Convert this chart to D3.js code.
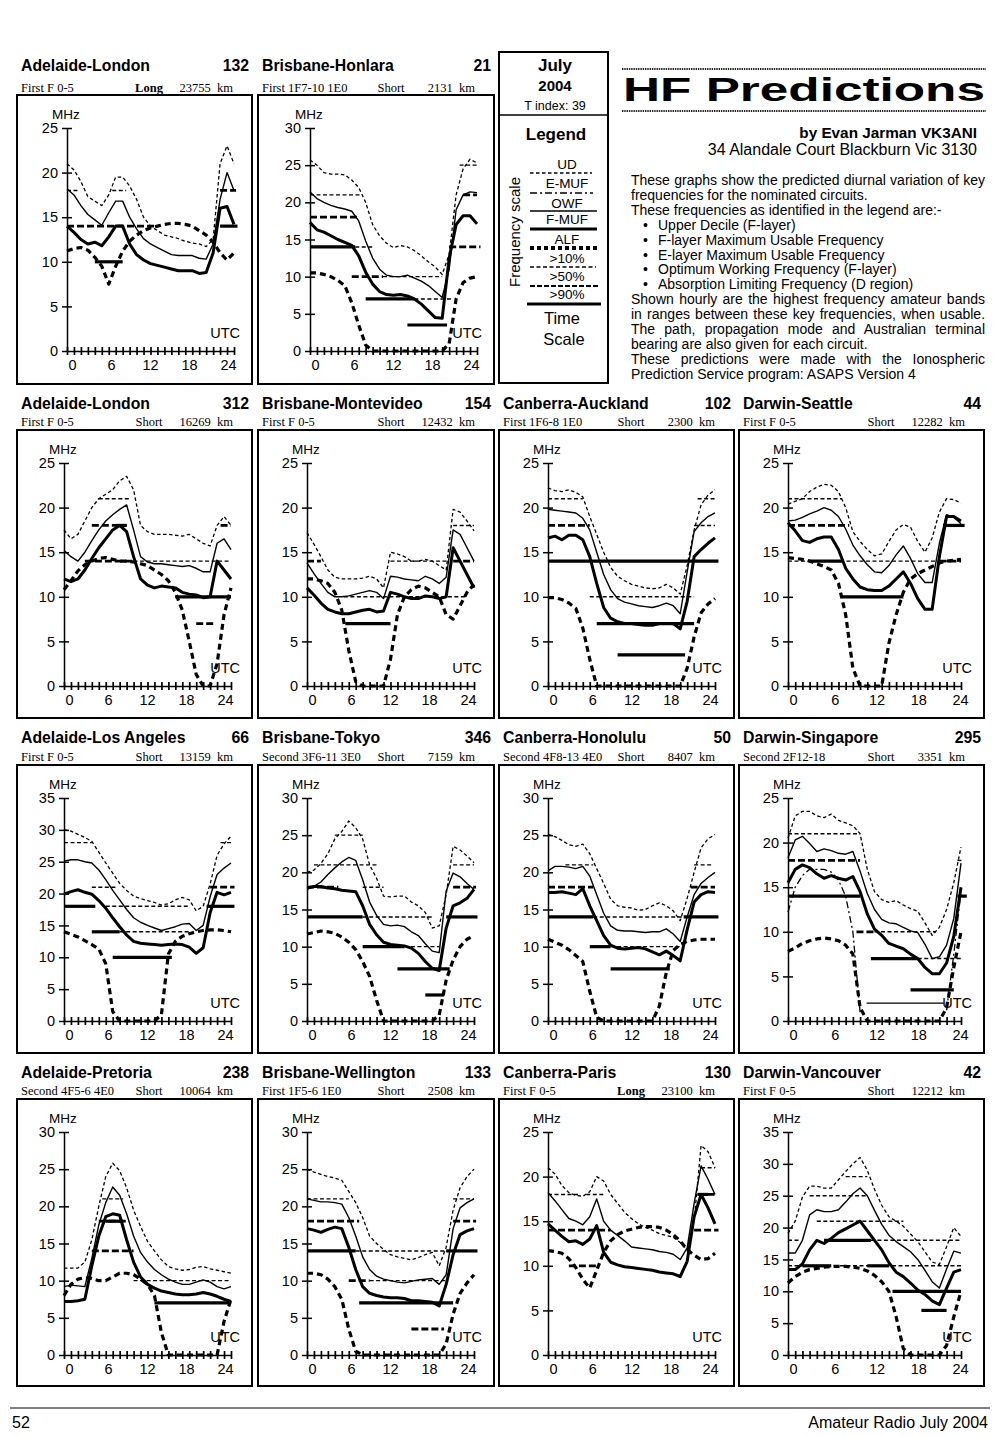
<!DOCTYPE html>
<html>
<head>
<meta charset="utf-8">
<script src="https://cdn.jsdelivr.net/npm/d3@7"></script>
<style>
  body { margin: 0; background: #fff; }
  svg text { font-family: "Liberation Sans", Arial, sans-serif; fill: #000; }
  .serif { font-family: "Liberation Serif", "Times New Roman", serif; }
</style>
</head>
<body>
<svg id="page" width="1000" height="1436"></svg>
<script>
// ---------------- data ----------------
const hours = [0,1,2,3,4,5,6,7,8,9,10,11,12,13,14,15,16,17,18,19,20,21,22,23,24];
const hourLabels = [0, 6, 12, 18, 24];
const freqTicks = [0, 5, 10, 15, 20, 25, 30, 35];

const circuits = ["Adelaide-London", "Brisbane-Honlara", "Adelaide-London", "Brisbane-Montevideo",
  "Canberra-Auckland", "Darwin-Seattle", "Adelaide-Los Angeles", "Brisbane-Tokyo",
  "Canberra-Honolulu", "Darwin-Singapore", "Adelaide-Pretoria", "Brisbane-Wellington",
  "Canberra-Paris", "Darwin-Vancouver"];
const bearings = [132, 21, 312, 154, 102, 44, 66, 346, 50, 295, 238, 133, 130, 42];
const modes = ["First F 0-5", "First 1F7-10 1E0", "First F 0-5", "First F 0-5", "First 1F6-8 1E0",
  "First F 0-5", "First F 0-5", "Second 3F6-11 3E0", "Second 4F8-13 4E0", "Second 2F12-18",
  "Second 4F5-6 4E0", "First 1F5-6 1E0", "First F 0-5", "First F 0-5"];
const paths = ["Long", "Short", "Short", "Short", "Short", "Short", "Short", "Short",
  "Short", "Short", "Short", "Short", "Long", "Short"];
const distances = [23755, 2131, 16269, 12432, 2300, 12282, 13159, 7159, 8407, 3351, 10064, 2508, 23100, 12212];
const yMax = [25, 30, 25, 25, 25, 25, 35, 30, 30, 25, 30, 30, 25, 35];

// Upper decile (F-layer), MHz, hourly 0..24 UTC
const upperDecile = [
  [21,20.3,19,17.3,16.8,16.3,17.5,19.5,19.5,18.5,17,15,14,13.5,13,12.8,12.6,12.3,12.1,12,11.7,12.5,21,23,21],
  [25.7,25,24,23.8,23.8,23.7,23,22,20,17,15.5,14.5,13.9,14.2,14,13.5,12.8,12,11.3,10.3,13,21,24.5,25.8,25.3],
  [17.5,16.5,17,18.5,20,21,21.5,22,23,23.5,22,18,17.3,17,17,17,16.9,16.8,17,16.5,16,15.7,18,19,18],
  [17.2,15.9,14.5,13,12.2,12,12,12,12.1,12.3,12,11,15,14.8,14.5,14,14,14.2,14,13.5,13,19.8,19.5,18.5,17.4],
  [22.2,21.9,21.8,22,21.7,21.2,19,17,15,13.3,12.3,11.8,11.4,11.2,11,10.9,11,11.4,11,10.3,13.5,17.5,20.3,21.4,22],
  [20.4,20.7,21,21.8,22.3,22.6,22.5,21.8,20,17.3,16.2,15.3,14.6,14.8,16.2,17.5,18.1,17.8,16.2,15,16.6,19.5,21,20.9,20.5],
  [30,29.8,29.3,28.8,28.2,26.5,24.8,23.2,21.6,20.5,19.6,19.2,18.9,18.6,18.2,18.4,19,19.4,19,17.3,18,21.5,26,27.8,29],
  [20,20.3,21.2,22.5,24.5,25.5,26.9,26,24.5,21,19.2,16.8,16.7,16.8,16.8,16,15.5,14.6,12.5,12.8,17,23.5,23,22.2,21.3],
  [25.1,24.8,24.3,23.7,23.5,23.8,22.5,20.5,18.5,16.4,15.5,15.3,15.2,14.9,15,15.5,15.9,15.5,14.8,13.5,16.5,20,23.3,24.5,25.1],
  [20.5,23,23.5,23.5,23,22.8,23.2,22.5,22.2,21.9,21,17,14.5,13.6,13.3,13.5,13,12.6,12.3,11,9.6,10.5,12.5,15.5,19.5],
  [11.7,11.7,11.7,12.5,15.5,20,24,25.8,24.8,22.5,19.5,17.3,15.3,14,12.8,11.9,11.6,11.4,11.5,11.8,11.9,11.6,11.4,11.2,11],
  [25,24.6,24.3,24,23.8,23.5,22,20.5,18.5,16,15,14.2,13.5,13.2,13,12.8,13.1,13.5,13.8,12,14.5,19.5,22.5,24,25],
  [21,20.3,19,18.2,17.9,17.8,18.3,20,19.5,18,17,16,15.3,14.7,14.3,14,13.6,13.4,13.2,12.6,11.8,15,23.5,22.8,21],
  [19.1,21,24.8,26.5,26.5,26.2,26.2,27.5,28.8,30,31,29,26,23.5,21.7,21,20.2,19,17.8,16.2,14.6,14.2,17,20,18.6]
];

// F-layer maximum usable frequency
const fLayerMuf = [
  [18.2,17.5,16.3,15.3,14.7,14.1,15.5,16.8,16.8,15,13.7,12.6,12,11.6,11.2,10.8,10.7,10.7,10.7,10.4,10.3,12,17,20,18],
  [21.4,20.5,20,19.6,19.3,19.1,18.8,17.5,14.8,12.5,11,10.2,10,10,10.2,9.8,9.4,8.8,8,7.2,11,19,21,21.4,21.3],
  [15.2,14.5,14,15,16.3,17.5,18.5,19.2,19.8,20.3,17.5,14.5,13.9,13.7,13.7,13.6,13.5,13.4,13.5,13.2,12.8,12.8,16,16.5,15.3],
  [13.8,12.6,11.5,10.5,10,10,10.1,10.3,10.5,10.7,10.5,9.8,12.3,12.2,12,11.9,11.8,12.3,12,11.5,12.2,17.5,17,15.5,14],
  [19.8,19.7,19.6,19.5,19.4,18.8,17.5,15,12.5,10.8,9.8,9.4,9.2,9,8.9,8.8,9,9.3,9,8.1,12.8,17.3,18.3,19,19.4],
  [18.5,18.6,18.9,19.3,19.6,20,19.7,19,17.6,15.8,14.6,13.6,12.8,12.7,13.5,14.7,15.7,14.3,12.6,11.6,11.6,16,19.2,18.9,18.2],
  [25.1,25.3,25.3,25,24.8,23.7,22.2,20.5,19,17.5,16.2,15.5,15,14.6,14.2,14.5,14.8,15.2,15.3,14.2,15,19.5,23,24,24.8],
  [17.7,18.1,18.7,19.7,20.6,21.4,22,21.6,19,16,14.2,13,12.8,12.9,12.7,12,11.5,10.4,9.4,9.2,17.5,19.9,19.4,18.5,17.7],
  [20.2,20.8,20.8,20.7,20.5,20.8,19.5,17,14.5,12.8,12.2,12.1,12.1,12,11.9,12,12,12.4,11.7,10.7,14,17,18.5,19.3,20],
  [18.3,20.3,20.7,19.9,19,19.3,19.1,18.8,18.7,19,16.8,14.3,12.5,11.4,11,10.9,10.5,10.1,9.9,8.6,7,7.2,8.5,11.5,17.7],
  [9.2,9.4,9.3,9.2,13,17.5,20.5,22.6,21.5,19,16,13.8,12.5,11.5,10.8,10.2,9.8,9.5,9.5,9.8,10.1,9.8,9.2,8.9,9.2],
  [21,20.8,20.6,20.6,20.5,20.3,18.5,16,13.2,11.5,10.6,10.2,10,9.8,9.7,9.9,10.1,10.2,10.3,9.5,10.8,17,19.8,20.5,21],
  [18.2,17.3,16.3,15.3,15,14.6,15.5,17.5,15,14,13.4,12.8,12.1,12,11.9,11.8,11.6,11.5,11.3,10.7,12,17,21.2,19.7,18],
  [16,16,18,22,22.8,22.5,22.5,22.8,24,25.3,26.2,25,22.7,20.5,18.8,17.8,17,16.2,15,13.3,11.5,10.5,13.5,16.3,16]
];

// Optimum working frequency (F-layer)
const optimumWorking = [
  [14,13.3,12.5,12,12.2,11.8,12.8,14,14,12,10.8,10.2,9.8,9.6,9.4,9.2,9,9,9,8.7,8.8,11,16,16.2,14.2],
  [17.3,16.3,16,15.5,15,14.6,14.2,12.8,10.6,9,8,7.6,7.5,7.6,7.4,7,6.3,5.4,4.5,4.4,12.5,17,18.2,18.2,17.1],
  [12,11.7,12,13,14.3,15.5,16.5,17.5,18,17.3,14.5,12,11.3,11,11.2,11.1,11,10.5,10.3,10.2,9.9,10,14,13,12],
  [11,10.2,9.3,8.6,8.3,8.1,8.1,8.3,8.5,8.6,8.3,8.4,10.5,10.3,10,9.8,9.8,10.1,10,9.8,10,15.5,14,12.5,11],
  [16.6,16.8,16.4,16.9,16.9,16.4,14.5,11.5,8.8,7.6,7.2,7,7,6.9,6.8,6.8,7,7,7,6.4,9.5,14.5,15.3,16,16.6],
  [18.3,17.4,16.3,16.1,16.5,16.7,16.7,15.3,13.2,12,11.1,10.8,10.7,10.7,11.2,12,12.8,11.5,9.8,8.6,8.6,14.5,19,19,18.5],
  [19.9,20.3,20.6,20.2,19.9,18.9,17.7,16.2,14.8,13.5,12.5,12.2,12.1,12,11.9,12,12.1,12,11.6,10.6,11.5,17,20.2,19.8,20.2],
  [17.9,18.1,18.1,17.9,17.8,17.6,17.5,17.4,15.5,13,11.6,10.6,10.3,10.2,10.1,9.8,9.1,8,7.1,6.8,12.5,15.5,15.9,16.5,17.7],
  [17.3,17.3,17.4,17.2,17,17.8,15.5,13.5,11.5,10.2,9.8,9.7,9.8,9.9,9.7,9.3,8.9,9.4,8.8,8.1,12.3,16,17,17.4,17.3],
  [15.5,17,17.5,17.2,16.5,16,16.3,16,15.8,16.2,14.5,12,10.3,9.6,8.7,8.4,8.1,7.5,7,6,5.3,5.3,6.5,9.5,15],
  [7.2,7.2,7.3,7.5,12,16,18.6,19,18.8,15.5,12.5,10.5,9.5,9,8.6,8.4,8.2,8.1,8.1,8.2,8.4,8.2,7.9,7.5,7.2],
  [17,16.8,16.5,16.9,17.2,17,14.5,11.5,9.2,8.3,8,7.8,7.7,7.7,7.6,7.3,7.3,7.2,7.1,6.6,9.5,13.5,16.2,16.7,17],
  [14.7,14,13.3,12.7,12.8,12.4,13,14.5,11.5,10.4,10.1,9.9,9.8,9.7,9.6,9.5,9.3,9.2,9.1,8.8,10.5,15.5,18,16.5,14.7],
  [13.4,13.4,14.3,16.5,18,17.5,18.3,19.2,19.8,20.4,21,19.5,18,16.5,14.5,13,12.3,11.3,10.2,9.5,8.5,7.9,10.5,13,13.4]
];

// Absorption limiting frequency (D region)
const absorptionLimit = [
  [11.2,11.5,11.6,11.3,10.5,9.5,7.5,9.5,11.2,12.3,13,13.5,13.8,14,14.2,14.3,14.3,14.2,14,13.5,13,12.2,11,10.2,11],
  [10.5,10.5,10.3,10,9.5,8.8,6.5,3.5,0.8,0,0,0,0,0,0,0,0,0,0,0,1,7,9.2,9.8,10],
  [10.8,11.8,12.9,13.6,14,14.3,14.4,14.2,14,14,13.9,13.7,13.5,13,12.5,11.8,10.5,8.5,5,1.3,0,0,2.5,8,11],
  [12,12,11.8,11.5,10.5,8.5,4,0.5,0,0,0,0,3,8,10,10.8,11.2,11,10.5,10,8,7.5,9,10.5,11.4],
  [9.9,9.9,9.7,9.3,8.7,6.5,3,0,0,0,0,0,0,0,0,0,0,0,0,0,2,5.5,8.2,9.2,9.8],
  [14.4,14.3,14.2,14,13.7,13.4,13,11.5,8,2,0,0,0,0,4.8,8,10.5,12,12.6,13,13.4,13.8,14,14.1,14.2],
  [14,13.6,13.2,12.6,12,11.3,9,1.5,0,0,0,0,0,0,1,10.5,12.5,13.3,13.7,14,14.2,14.3,14.3,14.2,14],
  [11.7,11.9,12.1,12,11.8,11.3,10.6,9.6,8,6,2.8,0,0,0,0,0,0,0,0,0.8,5.5,8.2,10,11,11.5],
  [11,10.6,10.2,9.6,8.8,8,4,0.5,0,0,0,0,0,0,0,0,2,6.5,9.5,10.3,10.7,10.9,11,11,11],
  [7.8,8.2,8.7,9,9.2,9.3,9.2,9,8.5,7.5,1.5,0,0,0,0,0,0,0,0,0,0,0,1.5,6,10],
  [8,9.5,10.2,10.4,10.3,10,10,10.5,11,11,10.8,10.2,9.5,8,3,0,0,0,0,0,0,0,0,4.5,7.5],
  [11,11,10.8,10.2,9.2,7.5,3.5,0.5,0,0,0,0,0,0,0,0,0,0,0,0,1.5,5.5,8.3,9.7,10.8],
  [11.7,11.6,11.4,10.8,9.8,8.5,7.5,9.5,11.5,12.8,13.5,13.9,14.1,14.3,14.4,14.4,14.3,14,13.5,12.8,11.8,11.2,10.7,10.8,11.4],
  [11.3,12.3,13,13.4,13.6,13.8,13.9,13.9,13.9,13.8,13.6,13.2,12.5,11.5,10,6,1,0,0,0,0,0,1.5,6,10]
];

// E-layer maximum usable frequency (only plotted where shown)
const eLayerMuf = [null, null, null, null, null, null, null, null, null,
  [12.2,15,16.3,17,17,17,16.7,15.8,14,10,1,null,null,null,null,null,null,null,null,null,null,null,1.2,7.5,14.5],
  null, null, null, null];

// amateur band segments: [band MHz, from hour, to hour, class]  (class 1 = thin solid trace)
const bandSegments = [
  [[18,0,1.5,10],[18,6.5,8.5,10],[14,0,12.5,50],[10,4,8,90],[18,22,24.3,50],[14,22,24.5,90]],
  [[25,21.5,24,10],[21,0,7.5,10],[21,22,24,50],[18,0,7,50],[14,0,6.5,90],[14,6.5,9,10],[14,20,24.5,50],[10,6,10.5,50],[10,10.5,19,10],[7,8,15,90],[7,15,20.5,10],[3.5,14,19.7,90]],
  [[21,5,9.5,10],[18,4,9,50],[18,22.5,24,50],[18,7.5,9,90],[14,3,10,50],[14,10,24,10],[10,16,24,90],[7,19,21.5,50]],
  [[14,0,2,50],[14,12,20,10],[18,21,24,10],[14,21,24,50],[10,5.3,23,10],[7,5.5,12,90]],
  [[21,0,5,10],[18,0,6,50],[21,21.5,24,10],[18,21,24,10],[14,0,24.5,90],[10,6,21,10],[7,7,21,90],[3.5,10,19.7,90]],
  [[21,0,7.5,10],[18,0,8.5,50],[18,21.5,24.5,90],[14,0,24,10],[14,3,7.5,90],[14,21,24,50],[10,7.5,16,90]],
  [[28,0,4,10],[28,22.5,24.3,10],[21,4,7.5,10],[21,21,24.5,50],[18,0,4.5,90],[18,6,18,10],[18,20.5,24.5,90],[14,4,8,90],[14,8,18,10],[10,7,15.5,90]],
  [[25,4,8,10],[21,1,10,10],[21,21,24,10],[18,0,4.5,50],[18,8,11,10],[18,21,24.3,50],[14,0,8,90],[14,8,18,10],[14,20,24.5,90],[10,8,14,90],[10,14,19,10],[7,13,20.5,90],[3.5,17,19.7,90]],
  [[21,2.5,6.5,10],[21,21,23.5,10],[18,0,6.5,50],[18,20.5,24,50],[14,0,6.5,90],[14,6.5,19.5,10],[14,19.5,24.5,90],[10,6,9,90],[10,9,19,10],[7,9,17.5,90]],
  [[21,0,10,10],[18,0,10,50],[18,23.5,24.2,10],[14,0,10,90],[14,23.5,24.8,90],[10,9.5,12,50],[10,12,20.5,10],[7,11.5,18,90],[7,18,24,10],[3.5,17,23,90],[2,10.9,21.6,1]],
  [[21,5.5,8.5,10],[18,5,9,50],[18,6,8.5,90],[14,4,10,50],[10,10,24,10],[7,13,24,90]],
  [[21,0,6,10],[21,21,24,10],[18,0,7.5,50],[18,21,24.3,50],[14,0,7,90],[14,7,20,10],[14,20,24.5,90],[10,6,9,50],[10,9,20,10],[7,7.5,21,90],[3.5,15,19.7,50]],
  [[18,0,4.5,10],[18,5.5,8,10],[21,22,24,10],[18,21.5,24,50],[18,21.5,23,90],[14,0,9,50],[14,21,24.5,50],[10,3,7,50]],
  [[28,8,11,10],[25,3,11,10],[21,4,16,10],[18,0,1.5,10],[18,5,11.5,90],[18,11.5,24,10],[14,0,24,10],[14,2,6,90],[14,11,14,90],[10,14.5,24,90],[7,18.5,22,90]]
];

const legendItems = ["UD", "E-MUF", "OWF", "F-MUF", "ALF", ">10%", ">50%", ">90%"];

const introLines = [
  "These graphs show the predicted diurnal variation of key",
  "frequencies for the nominated circuits.",
  "These frequencies as identified in the legend are:-",
  "Upper Decile (F-layer)",
  "F-layer Maximum Usable Frequency",
  "E-layer Maximum Usable Frequency",
  "Optimum Working Frequency (F-layer)",
  "Absorption Limiting Frequency (D region)",
  "Shown hourly are the highest frequency amateur bands",
  "in ranges between these key frequencies, when usable.",
  "The path, propagation mode and Australian terminal",
  "bearing are also given for each circuit.",
  "These predictions were made with the Ionospheric",
  "Prediction Service program: ASAPS Version 4"
];
const introBullet = [false,false,false,true,true,true,true,true,false,false,false,false,false,false];
const introJustify = [true,false,false,false,false,false,false,false,true,true,true,false,true,false];

// ---------------- layout ----------------
const svg = d3.select("#page");
const colX = [17, 258, 499, 739];
const colW = [235, 236, 235, 245];
const axOff = [47, 49, 49, 49];
const plotW = [167, 167, 167, 173];
const labInset = [6, 6, 5, 1];
const rowY = [95, 430, 765, 1099];
const rowH = [289, 288, 288, 287];
const titleBase = [71, 409, 743, 1078];
const subBase = [92, 426, 761, 1095];
const slots = [[0,0],[0,1],[1,0],[1,1],[1,2],[1,3],[2,0],[2,1],[2,2],[2,3],[3,0],[3,1],[3,2],[3,3]];

const seriesStyle = [
  { key: "ud",   data: upperDecile,     w: 1.3, dash: "3.5,2.5" },
  { key: "emuf", data: eLayerMuf,       w: 1.3, dash: "7,3,2,3" },
  { key: "fmuf", data: fLayerMuf,       w: 1.4, dash: null },
  { key: "alf",  data: absorptionLimit, w: 3.2, dash: "6,4" },
  { key: "owf",  data: optimumWorking,  w: 3,   dash: null }
];
const bandStyle = {
  1: { w: 1.2, dash: null },
  10: { w: 1.4, dash: "4,2.5" },
  50: { w: 2.8, dash: "7,3" },
  90: { w: 3.2, dash: null }
};

//
// one small chart per circuit
//
circuits.forEach((name, i) => {
  const [r, c] = slots[i];
  const bx = colX[c], by = rowY[r], bw = colW[c], bh = rowH[r];
  const ax = bx + axOff[c] + (r === 0 ? 3 : 0);
  const W = plotW[c];
  const y0 = by + 256, yTop = by + 33;

  const x = d3.scaleLinear().domain([0, 24]).range([ax, ax + W]);
  const xLab = d3.scaleLinear().domain([0, 24]).range([ax + 5, ax + W - labInset[c]]);
  const y = d3.scaleLinear().domain([0, yMax[i]]).range([y0, yTop]);

  // headings
  svg.append("text").attr("x", bx + 4).attr("y", titleBase[r])
     .attr("font-size", 15.8).attr("font-weight", "bold").text(name);
  svg.append("text").attr("x", bx + bw - 3).attr("y", titleBase[r])
     .attr("text-anchor", "end").attr("font-size", 15.8).attr("font-weight", "bold").text(bearings[i]);
  svg.append("text").attr("class", "serif").attr("x", bx + 4).attr("y", subBase[r])
     .attr("font-size", 12.5).text(modes[i]);
  svg.append("text").attr("class", "serif").attr("x", bx + bw - 103).attr("y", subBase[r])
     .attr("text-anchor", "middle").attr("font-size", 12.5)
     .attr("font-weight", paths[i] === "Long" ? "bold" : "normal").text(paths[i]);
  svg.append("text").attr("class", "serif").attr("x", bx + bw - 19).attr("y", subBase[r])
     .attr("text-anchor", "end").attr("font-size", 12.5).style("white-space", "pre")
     .text(distances[i] + "  km");

  svg.append("rect").attr("x", bx).attr("y", by).attr("width", bw).attr("height", bh)
     .attr("fill", "none").attr("stroke", "#000").attr("stroke-width", 2);

  const g = svg.append("g");

  // axes
  const yt = freqTicks.filter(v => v <= yMax[i]);
  g.append("g").attr("transform", `translate(${ax},0)`)
   .call(d3.axisLeft(y).tickValues(yt).tickSize(5).tickSizeOuter(0).tickPadding(4))
   .call(a => a.selectAll("text").attr("font-size", 14.5).attr("font-family", "Liberation Sans, Arial"))
   .call(a => a.selectAll("line,path").attr("stroke-width", 1.5));
  g.append("g").attr("transform", `translate(${ax},0)`)
   .call(d3.axisRight(y).tickValues(yt.slice(1)).tickSize(5).tickSizeOuter(0).tickFormat(""))
   .call(a => a.select(".domain").remove())
   .call(a => a.selectAll("line").attr("stroke-width", 1.5));

  g.append("g").attr("transform", `translate(0,${y0})`)
   .call(d3.axisBottom(x).tickValues(hours).tickSize(4).tickSizeOuter(0).tickFormat(""))
   .call(a => a.selectAll("line,path").attr("stroke-width", 1.7));
  g.append("g").attr("transform", `translate(0,${y0})`)
   .call(d3.axisTop(x).tickValues(hours).tickSize(4).tickSizeOuter(0).tickFormat(""))
   .call(a => a.select(".domain").remove())
   .call(a => a.selectAll("line").attr("stroke-width", 1.7));
  g.append("g").attr("transform", `translate(0,${y0})`)
   .call(d3.axisBottom(xLab).tickValues(hourLabels).tickSize(0).tickPadding(9))
   .call(a => a.select(".domain").remove())
   .call(a => a.selectAll("text").attr("font-size", 14.5).attr("font-family", "Liberation Sans, Arial"));

  g.append("text").attr("x", ax - 15).attr("y", by + 24).attr("font-size", 13.5).text("MHz");
  g.append("text").attr("x", bx + bw - 12).attr("y", by + 243).attr("text-anchor", "end")
   .attr("font-size", 14.5).text("UTC");

  // amateur band segments
  bandSegments[i].forEach(s => {
    const st = bandStyle[s[3]];
    g.append("line")
     .attr("x1", x(s[1])).attr("x2", x(s[2]))
     .attr("y1", y(s[0])).attr("y2", y(s[0]))
     .attr("stroke", "#000").attr("stroke-width", st.w)
     .attr("stroke-dasharray", st.dash);
  });

  // key frequency curves
  const line = d3.line()
    .defined(d => d != null)
    .x((d, j) => x(hours[j]))
    .y(d => y(d));
  seriesStyle.forEach(s => {
    const vals = s.data[i];
    if (!vals) return;
    g.append("path").datum(vals)
     .attr("class", s.key)
     .attr("d", line)
     .attr("fill", "none").attr("stroke", "#000")
     .attr("stroke-width", s.w)
     .attr("stroke-linejoin", "round")
     .attr("stroke-dasharray", s.dash);
  });
});

//
// legend box
//
const lg = svg.append("g");
lg.append("rect").attr("x", 499).attr("y", 52).attr("width", 109).attr("height", 331)
  .attr("fill", "none").attr("stroke", "#000").attr("stroke-width", 2);
lg.append("line").attr("x1", 499).attr("x2", 608).attr("y1", 115).attr("y2", 115)
  .attr("stroke", "#000").attr("stroke-width", 1.5);
lg.append("text").attr("x", 555).attr("y", 71).attr("text-anchor", "middle")
  .attr("font-size", 17).attr("font-weight", "bold").text("July");
lg.append("text").attr("x", 555).attr("y", 91).attr("text-anchor", "middle")
  .attr("font-size", 15).attr("font-weight", "bold").text("2004");
lg.append("text").attr("x", 555).attr("y", 110).attr("text-anchor", "middle")
  .attr("font-size", 12.5).text("T index: 39");
lg.append("text").attr("x", 556).attr("y", 140).attr("text-anchor", "middle")
  .attr("font-size", 17).attr("font-weight", "bold").text("Legend");
lg.append("text").attr("transform", "translate(520,232) rotate(-90)").attr("text-anchor", "middle")
  .attr("font-size", 15).text("Frequency scale");

const legLabelY = [169, 188, 208, 224, 244, 263, 281, 299];
const legLineY = [173, 193, 211, 229, 248, 267, 286, 304];
const legLineX = [[530,592],[530,593],[530,597],[530,597],[530,598],[530,596],[530,598],[527,601]];
const legStyle = [
  { w: 1.3, dash: "3.5,2.5" }, { w: 1.3, dash: "7,3,2,3" }, { w: 1.4, dash: null }, { w: 3, dash: null },
  { w: 4, dash: "4,3" }, { w: 1.5, dash: "4,2.5" }, { w: 2, dash: "5,2" }, { w: 3.2, dash: null }
];
legendItems.forEach((lab, k) => {
  lg.append("text").attr("x", 567).attr("y", legLabelY[k]).attr("text-anchor", "middle")
    .attr("font-size", 13.5).text(lab);
  lg.append("line").attr("x1", legLineX[k][0]).attr("x2", legLineX[k][1])
    .attr("y1", legLineY[k]).attr("y2", legLineY[k])
    .attr("stroke", "#000").attr("stroke-width", legStyle[k].w)
    .attr("stroke-dasharray", legStyle[k].dash);
});
lg.append("text").attr("x", 562).attr("y", 324).attr("text-anchor", "middle").attr("font-size", 16.5).text("Time");
lg.append("text").attr("x", 564).attr("y", 345).attr("text-anchor", "middle").attr("font-size", 16.5).text("Scale");

//
// heading block
//
const hd = svg.append("g");
[69, 111].forEach(yy => {
  hd.append("line").attr("x1", 622).attr("x2", 986).attr("y1", yy).attr("y2", yy)
    .attr("stroke", "#222").attr("stroke-width", 2.2).attr("stroke-dasharray", "1.4,0.9");
});
hd.append("text").attr("x", 623).attr("y", 101)
  .attr("font-family", "DejaVu Sans, sans-serif").attr("font-size", 34).attr("font-weight", 900)
  .attr("textLength", 362).attr("lengthAdjust", "spacingAndGlyphs").text("HF Predictions");
hd.append("text").attr("x", 977).attr("y", 138).attr("text-anchor", "end")
  .attr("font-size", 15.3).attr("font-weight", "bold").text("by Evan Jarman VK3ANI");
hd.append("text").attr("x", 977).attr("y", 155).attr("text-anchor", "end")
  .attr("font-size", 16).text("34 Alandale Court Blackburn Vic 3130");

introLines.forEach((t, k) => {
  const yy = 185 + k * 14.9;
  if (introBullet[k]) {
    hd.append("text").attr("x", 643).attr("y", yy).attr("font-size", 14).text("•");
    hd.append("text").attr("x", 658).attr("y", yy).attr("font-size", 14).text(t);
  } else {
    const tx = hd.append("text").attr("x", 631).attr("y", yy).attr("font-size", 14).text(t);
    if (introJustify[k]) {
      // justify by stretching the word gaps only
      const natural = tx.node().getComputedTextLength();
      const gaps = t.split(" ").length - 1;
      tx.attr("word-spacing", ((354 - natural) / gaps).toFixed(2));
    }
  }
});

//
// footer
//
svg.append("line").attr("x1", 10).attr("x2", 990).attr("y1", 1408).attr("y2", 1408)
  .attr("stroke", "#000").attr("stroke-width", 1);
svg.append("text").attr("x", 12).attr("y", 1428).attr("font-size", 16)
  .attr("font-family", "Liberation Sans Narrow, Liberation Sans, Arial").text("52");
svg.append("text").attr("x", 988).attr("y", 1428).attr("text-anchor", "end").attr("font-size", 16)
  .attr("font-family", "Liberation Sans Narrow, Liberation Sans, Arial").text("Amateur Radio July 2004");
</script>
</body>
</html>
